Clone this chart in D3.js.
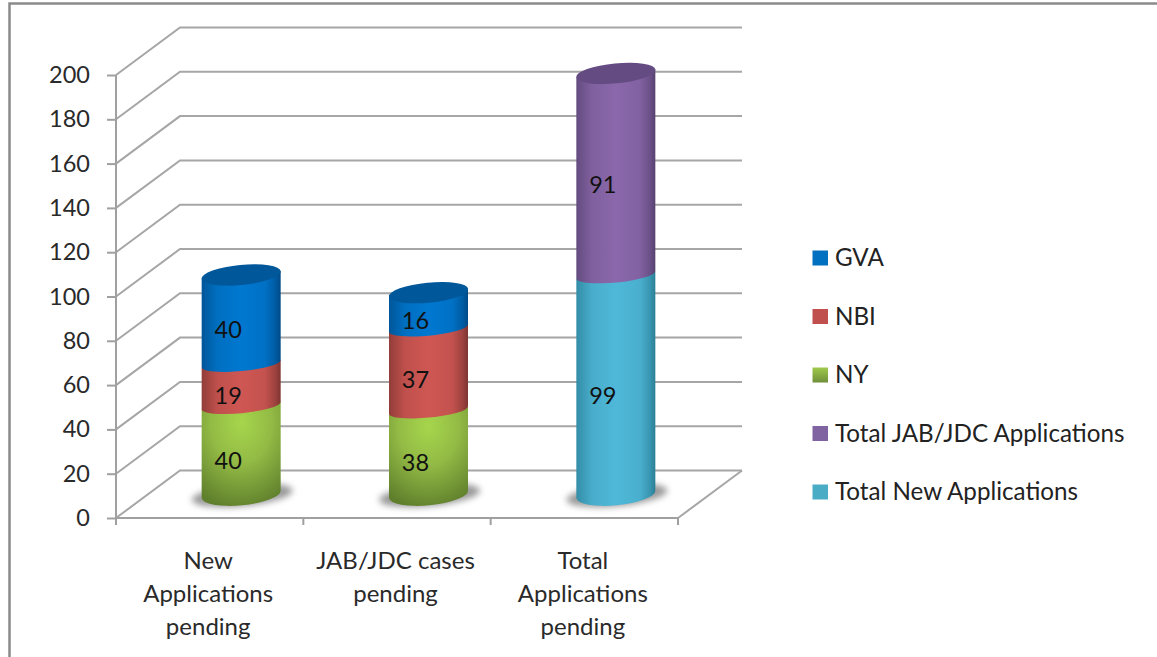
<!DOCTYPE html>
<html><head><meta charset="utf-8">
<script src="https://cdn.jsdelivr.net/npm/d3@7"></script>
<style>html,body{margin:0;padding:0;background:#fff;overflow:hidden}text{font-family:Lato,"Open Sans",sans-serif}</style>
</head><body><svg id="c" width="1157" height="657"></svg>
<script>
const categories = ["New Applications pending","JAB/JDC cases pending","Total Applications pending"];
const categoryLines = [["New","Applications","pending"],["JAB/JDC cases","pending"],["Total","Applications","pending"]];
const seriesNames = ["Total New Applications","Total JAB/JDC Applications","NY","NBI","GVA"];
const totalNew = [0,0,99];
const totalJab = [0,0,91];
const ny = [40,38,0];
const nbi = [19,37,0];
const gva = [40,16,0];
const yTicks = [0,20,40,60,80,100,120,140,160,180,200];
const seriesValues = [totalNew,totalJab,ny,nbi,gva];
const baseColors = ["#4bacc6","#8064a2","#9bbb59","#c0504d","#0070c0"];
const lightColors = ["#4fb8d8","#8a68ab","#a6d24a","#cf5753","#0078d0"];
const darkColors = ["#2b7f96","#574270","#60802c","#7e3432","#004a86"];
const capColors = {"4":"#00589a","1":"#644c82"};
const legendOrder = [4,3,2,1,0];

const svg = d3.select("#c");
const defs = svg.append("defs");
baseColors.forEach((c,i)=>{
  const mix = d3.interpolateRgb(darkColors[i],lightColors[i]);
  const g = defs.append("linearGradient").attr("id","g"+i).attr("x1",0).attr("x2",1).attr("y1",0).attr("y2",0);
  [[0,mix(.25)],[.2,mix(.8)],[.5,lightColors[i]],[.8,mix(.85)],[.93,mix(.4)],[1,darkColors[i]]]
    .forEach(s=>g.append("stop").attr("offset",s[0]).attr("stop-color",s[1]));
});
const rg = defs.append("radialGradient").attr("id","gNY").attr("cx",.5).attr("cy",.2).attr("r",.85);
rg.append("stop").attr("offset",0).attr("stop-color","#a6d64c");
rg.append("stop").attr("offset",.45).attr("stop-color","#93bb45");
rg.append("stop").attr("offset",1).attr("stop-color","#5f7f2c");
const lg = defs.append("linearGradient").attr("id","lgNY").attr("x1",0).attr("x2",0).attr("y1",0).attr("y2",1);
lg.append("stop").attr("offset",0).attr("stop-color","#9fca4c");
lg.append("stop").attr("offset",1).attr("stop-color","#6f8f3a");
defs.append("filter").attr("id","blur").attr("x","-30%").attr("y","-60%").attr("width","160%").attr("height","220%")
  .append("feGaussianBlur").attr("stdDeviation",3);

// frame
svg.append("path").attr("d","M9.5,657V3.5H1157").attr("fill","none").attr("stroke","#8a8a8a").attr("stroke-width",2.5);

const y = d3.scaleLinear().domain([0,200]).range([518,75]);
const x = d3.scaleBand().domain(categories).range([116,678]);
const dx = 64, dy = 47.5;
const grid = svg.append("g").attr("fill","none").attr("stroke","#a6a6a6").attr("stroke-width",2);
yTicks.forEach(t=>{
  grid.append("path").attr("d",`M${x.range()[0]},${y(t)}L${x.range()[0]+dx},${y(t)-dy}H${x.range()[1]+dx}`);
});
grid.append("path").attr("d",`M${x.range()[1]+dx},${y(0)-dy}L${x.range()[1]},${y(0)}`);

const axisL = svg.append("g").attr("transform",`translate(${x.range()[0]},0)`)
  .call(d3.axisLeft(y).tickValues(yTicks).tickSize(9).tickPadding(17));
axisL.selectAll("text").attr("font-size",23.5).attr("fill","#2a2a2a").attr("dy","0.32em");
axisL.selectAll("line,path").attr("stroke","#a0a0a0").attr("stroke-width",2);
axisL.select("path").attr("d",`M0,${y(0)}V${y(200)}`);

const tickXs = x.domain().map(d=>x(d)).concat([x.range()[1]]);
const axisB = svg.append("g").attr("stroke","#a0a0a0").attr("stroke-width",2);
axisB.append("path").attr("fill","none").attr("d",`M${x.range()[0]},${y(0)}H${x.range()[1]}`);
axisB.selectAll("line").data(tickXs).join("line").attr("x1",d=>d).attr("x2",d=>d).attr("y1",y(0)).attr("y2",y(0)+7);

// cylinders
const rx = 39.5, tilt = -5.5, ryEdge = 7.5, ryBase = 11, ryCap = 10;
const sl = rx*Math.tan(-tilt*Math.PI/180);
const bars = svg.append("g");
categories.forEach((cat,ci)=>{
  const cx = x(cat)+x.bandwidth()/2+dx/2-0.5;
  const lift = dy/2;
  const Y = v=>y(v)-lift;
  bars.append("ellipse").attr("cx",cx+1).attr("cy",Y(0)+1).attr("rx",rx+11).attr("ry",ryBase)
    .attr("transform",`rotate(${tilt} ${cx} ${Y(0)})`).attr("fill","#9a9a9a").attr("filter","url(#blur)");
  let acc = 0, last = -1, topAcc = 0;
  seriesValues.forEach((s,si)=>{ if(s[ci]>0){last=si; topAcc+=s[ci];} });
  seriesValues.forEach((s,si)=>{
    const v = s[ci]; if(!v) return;
    const y0 = Y(acc), y1 = Y(acc+v);
    const ry = acc===0?ryBase:ryEdge;
    const fill = si===2 ? "url(#gNY)" : `url(#g${si})`;
    bars.append("path").attr("fill",fill)
      .attr("d",`M${cx-rx},${y1+sl}L${cx+rx},${y1-sl}L${cx+rx},${y0-sl}A${rx},${ry} ${tilt} 0 1 ${cx-rx},${y0+sl}Z`);
    acc += v;
  });
  const capC = capColors[last];
  bars.append("ellipse").attr("cx",cx).attr("cy",Y(topAcc)).attr("rx",rx+.3).attr("ry",ryCap)
    .attr("transform",`rotate(${tilt} ${cx} ${Y(topAcc)})`).attr("fill",capC);
  acc = 0;
  seriesValues.forEach(s=>{
    const v = s[ci]; if(!v) return;
    bars.append("text").attr("x",cx-13).attr("y",(Y(acc)+Y(acc+v))/2+13)
      .attr("text-anchor","middle").attr("dominant-baseline","middle")
      .attr("font-size",23.5).attr("fill","#111").text(v);
    acc += v;
  });
});

// category labels
categories.forEach((cat,ci)=>{
  const c = x(cat)+x.bandwidth()/2-1.5;
  categoryLines[ci].forEach((l,li)=>{
    svg.append("text").attr("x",c).attr("y",563+li*33).attr("text-anchor","middle")
      .attr("dominant-baseline","middle").attr("font-size",24).attr("fill","#2a2a2a").text(l);
  });
});

// legend
const legY = d3.scalePoint().domain(legendOrder).range([258,492]);
const leg = svg.append("g");
legendOrder.forEach(i=>{
  leg.append("rect").attr("x",812.5).attr("y",legY(i)-7.5).attr("width",15.5).attr("height",15)
    .attr("fill",i===2?"url(#lgNY)":baseColors[i]);
  leg.append("text").attr("x",835).attr("y",legY(i)+2).attr("dominant-baseline","middle")
    .attr("font-size",24.2).attr("fill","#222").text(seriesNames[i]);
});
</script></body></html>
